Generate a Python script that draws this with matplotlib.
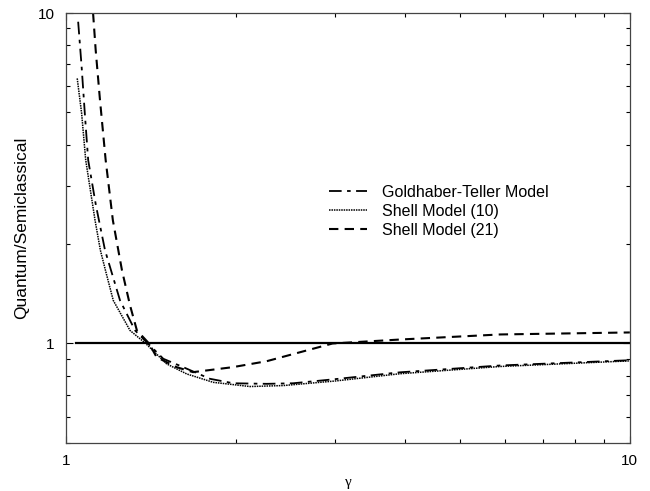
import matplotlib
matplotlib.use("Agg")
import matplotlib.pyplot as plt
from matplotlib.ticker import LogLocator, NullFormatter, FixedLocator, FixedFormatter

# Goldhaber-Teller model (dash-dot)
gt_x = [1.051, 1.066, 1.081, 1.095, 1.130, 1.173, 1.247, 1.326, 1.392, 1.488, 1.614,
        1.80, 1.98, 2.27, 2.53, 3.0, 3.91, 5.89, 10.0]
gt_y = [9.41, 6.88, 4.85, 3.585, 2.62, 1.913, 1.35, 1.095, 1.007, 0.899, 0.848,
        0.782, 0.758, 0.755, 0.758, 0.78, 0.818, 0.858, 0.89]

# Shell model (10) (dotted)
s10_x = [1.047, 1.066, 1.084, 1.126, 1.151, 1.175, 1.213, 1.299, 1.385, 1.508, 1.637,
         1.824, 2.12, 2.43, 3.0, 3.91, 5.89, 10.0]
s10_y = [6.34, 4.97, 3.585, 2.36, 1.913, 1.664, 1.35, 1.095, 1.0, 0.868, 0.809,
         0.763, 0.741, 0.746, 0.77, 0.81, 0.852, 0.886]

# Shell model (21) (dashed)
s21_x = [1.117, 1.129, 1.149, 1.176, 1.211, 1.257, 1.299, 1.336, 1.404, 1.448,
         1.571, 1.68, 1.976, 2.27, 2.565, 2.97, 3.91, 5.89, 10.0]
s21_y = [10.0, 7.72, 5.45, 3.585, 2.36, 1.664, 1.304, 1.095, 1.0, 0.909,
         0.848, 0.819, 0.848, 0.884, 0.935, 1.0, 1.028, 1.065, 1.08]

ref_x = [1.04, 10.0]
ref_y = [1.0, 1.0]

plt.rcParams['font.family'] = ['Liberation Sans', 'DejaVu Sans']

fig = plt.figure(figsize=(6.5, 4.91), dpi=100)
ax = fig.add_axes([0.1015, 0.0978, 0.8675, 0.8757])

ax.plot(ref_x, ref_y, color='black', lw=1.6)
ax.plot(gt_x, gt_y, color='black', lw=1.3, linestyle=(0, (7, 3, 2, 3)),
        label='Goldhaber-Teller Model')
ax.plot(s10_x, s10_y, color='black', lw=1.1, linestyle=(0, (1, 0.6)),
        label='Shell Model (10)')
ax.plot(s21_x, s21_y, color='black', lw=1.5, linestyle=(0, (4.5, 3)),
        label='Shell Model (21)')

ax.set_xscale('log')
ax.set_yscale('log')
ax.set_xlim(1, 10)
ax.set_ylim(0.5, 10)

ax.xaxis.set_major_locator(FixedLocator([1, 10]))
ax.xaxis.set_major_formatter(FixedFormatter(['1', '10']))
ax.xaxis.set_minor_locator(LogLocator(base=10, subs=range(2, 10)))
ax.xaxis.set_minor_formatter(NullFormatter())
ax.yaxis.set_major_locator(FixedLocator([1, 10]))
ax.yaxis.set_major_formatter(FixedFormatter(['1', '10']))
ax.yaxis.set_minor_locator(LogLocator(base=10, subs=range(2, 10)))
ax.yaxis.set_minor_formatter(NullFormatter())

ax.tick_params(which='both', direction='in', top=True, right=True, width=0.8)
ax.tick_params(which='major', length=5, labelsize=11, pad=8)
ax.tick_params(which='minor', length=3)
for s in ax.spines.values():
    s.set_linewidth(0.9)
    s.set_color('#444444')

ax.set_ylabel('Quantum/Semiclassical', fontsize=12.5, labelpad=6)
ax.set_xlabel('γ', fontsize=11, family=['Liberation Serif', 'DejaVu Serif'], labelpad=6)

ax.legend(loc='upper left', bbox_to_anchor=(0.506, 0.624), bbox_transform=fig.transFigure,
          frameon=False, fontsize=11.5, handlelength=2.4, handletextpad=0.9,
          labelspacing=0.25, borderaxespad=0, borderpad=0)

fig.savefig('out.png', dpi=100)
